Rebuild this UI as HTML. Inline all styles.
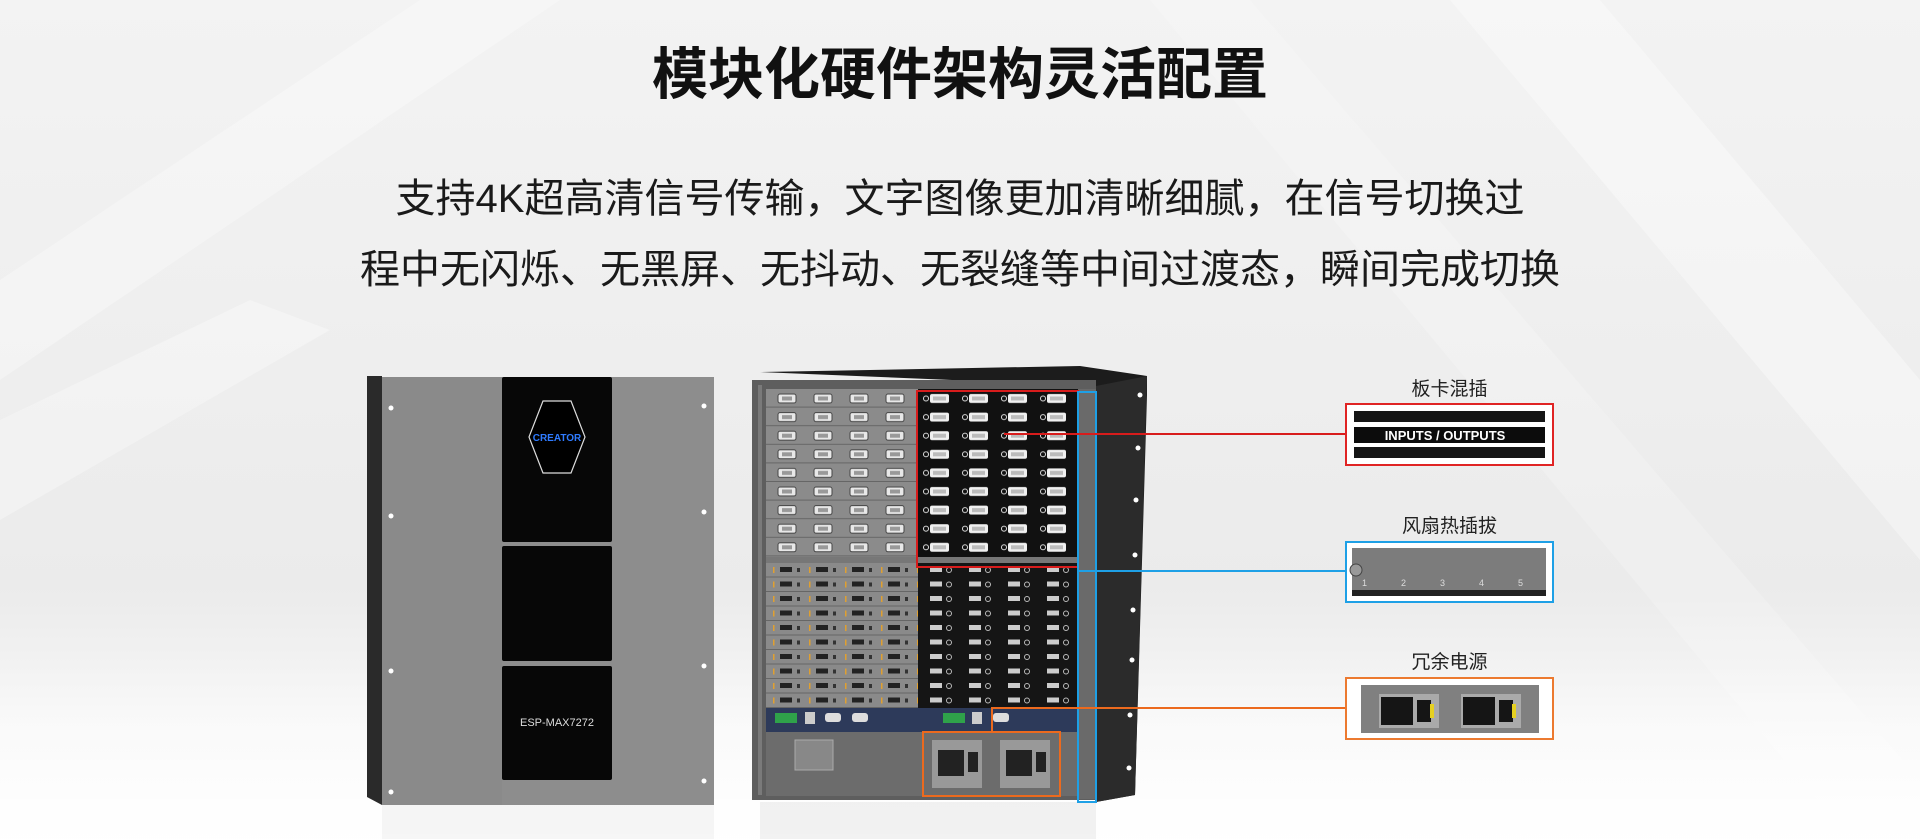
<!DOCTYPE html>
<html><head><meta charset="utf-8"><style>
html,body{margin:0;padding:0}
body{width:1920px;height:839px;position:relative;overflow:hidden;font-family:"Liberation Sans","Noto Sans CJK SC",sans-serif;background:linear-gradient(180deg,#f3f3f3 0%,#eeeeee 45%,#ebebeb 70%,#f6f6f6 85%,#fbfbfb 100%)}
.t{position:absolute;left:0;width:1920px;text-align:center;color:#111}
.lab{position:absolute;width:207px;text-align:center;font-size:19px;color:#222}
</style></head><body>
<svg width="1920" height="839" style="position:absolute;left:0;top:0">
<defs>
<linearGradient id="fl" x1="0" y1="0" x2="0" y2="1"><stop offset="0" stop-color="#fff" stop-opacity="0"/><stop offset="1" stop-color="#fff" stop-opacity="0.9"/></linearGradient>
<pattern id="ul" x="770" y="389" width="36" height="18.6" patternUnits="userSpaceOnUse"><rect width="36" height="18.6" fill="#8b8b8b"/><rect y="17.6" width="36" height="1" fill="#666"/><rect x="8" y="5" width="18" height="9" rx="2" fill="#e8e8e8" stroke="#444" stroke-width="1"/><rect x="12" y="7.5" width="10" height="4" fill="#999"/></pattern>
<pattern id="ur" x="920" y="389" width="39" height="18.6" patternUnits="userSpaceOnUse"><rect width="39" height="18.6" fill="#111"/><rect x="10" y="5" width="19" height="9" rx="2" fill="#f0f0f0"/><rect x="13" y="7.5" width="13" height="4" fill="#bbb"/><circle cx="6" cy="9.5" r="2.5" fill="none" stroke="#ddd"/></pattern>
<pattern id="ll" x="770" y="563" width="36" height="14.5" patternUnits="userSpaceOnUse"><rect width="36" height="14.5" fill="#8a8a8a"/><rect y="13.5" width="36" height="1" fill="#666"/><rect x="10" y="4" width="12" height="5" fill="#222"/><rect x="27" y="5" width="3" height="4" fill="#333"/><rect x="3" y="4" width="1.5" height="6" fill="#e0a030"/></pattern>
<pattern id="lr" x="920" y="563" width="39" height="14.5" patternUnits="userSpaceOnUse"><rect width="39" height="14.5" fill="#151515"/><rect x="10" y="4" width="12" height="5" fill="#ccc"/><circle cx="29" cy="7" r="2.5" fill="none" stroke="#bbb"/></pattern>
</defs>
<polygon points="0,280 420,0 560,0 0,380" fill="#fff" opacity="0.3"/>
<polygon points="1450,0 1600,0 1920,380 1920,560" fill="#fff" opacity="0.35"/>
<polygon points="1150,0 1250,0 1920,780 1920,839 1850,839" fill="#fff" opacity="0.2"/>
<polygon points="0,420 250,300 330,330 0,520" fill="#fff" opacity="0.3"/>
<rect x="0" y="660" width="1920" height="179" fill="url(#fl)"/>

<polygon points="367,376 382,376 382,805 367,797" fill="#2a2a2a"/>
<rect x="382" y="377" width="332" height="428" fill="#8d8d8d"/>
<rect x="382" y="377" width="120" height="428" fill="#8a8a8a"/>
<rect x="502" y="377" width="110" height="165" rx="2" fill="#070707"/>
<rect x="502" y="546" width="110" height="115" rx="2" fill="#070707"/>
<rect x="502" y="666" width="110" height="114" rx="2" fill="#070707"/>
<polygon points="543,401 571,401 585,437 571,473 543,473 529,437" fill="#000" stroke="#ddd" stroke-width="1.2"/>
<text x="557" y="441" text-anchor="middle" font-size="10" font-weight="bold" fill="#2f7bff" font-family="Liberation Sans">CREATOR</text>
<text x="557" y="726" text-anchor="middle" font-size="11" fill="#ddd" font-family="Liberation Sans">ESP-MAX7272</text>
<g fill="#fff"><circle cx="391" cy="408" r="2.5"/><circle cx="391" cy="516" r="2.5"/><circle cx="391" cy="671" r="2.5"/><circle cx="391" cy="792" r="2.5"/><circle cx="704" cy="406" r="2.5"/><circle cx="704" cy="512" r="2.5"/><circle cx="704" cy="666" r="2.5"/><circle cx="704" cy="781" r="2.5"/></g>
<polygon points="382,805 714,805 714,839 382,839" fill="#ddd" opacity="0.25"/>

<polygon points="760,372 1080,366 1147,376 1147,395 1135,795 1096,802 1096,386" fill="#1c1c1c"/>
<polygon points="1096,386 1147,376 1135,795 1096,802" fill="#2b2b2b"/>
<g fill="#fff"><circle cx="1140" cy="395" r="2.5"/><circle cx="1138" cy="448" r="2.5"/><circle cx="1136" cy="500" r="2.5"/><circle cx="1135" cy="555" r="2.5"/><circle cx="1133" cy="610" r="2.5"/><circle cx="1132" cy="660" r="2.5"/><circle cx="1130" cy="715" r="2.5"/><circle cx="1129" cy="768" r="2.5"/></g>
<rect x="752" y="380" width="344" height="420" fill="#5e5e5e"/>
<rect x="766" y="389" width="152" height="168" fill="url(#ul)"/>
<rect x="918" y="389" width="160" height="168" fill="url(#ur)"/>
<rect x="766" y="557" width="312" height="6" fill="#777"/>
<rect x="766" y="563" width="152" height="145" fill="url(#ll)"/>
<rect x="918" y="563" width="160" height="145" fill="url(#lr)"/>
<rect x="766" y="708" width="312" height="24" fill="#2d3a5a"/>
<rect x="775" y="713" width="22" height="10" fill="#2fa24a"/><rect x="805" y="712" width="10" height="12" fill="#ccc"/><rect x="825" y="713" width="16" height="9" rx="3" fill="#ddd"/><rect x="852" y="713" width="16" height="9" rx="3" fill="#ddd"/>
<rect x="943" y="713" width="22" height="10" fill="#2fa24a"/><rect x="972" y="712" width="10" height="12" fill="#ccc"/><rect x="993" y="713" width="16" height="9" rx="3" fill="#ddd"/>
<rect x="766" y="732" width="312" height="64" fill="#6c6c6c"/>
<rect x="795" y="740" width="38" height="30" fill="#888" stroke="#aaa"/>
<rect x="932" y="740" width="50" height="48" fill="#999"/><rect x="1000" y="740" width="50" height="48" fill="#999"/>
<rect x="938" y="750" width="26" height="26" fill="#222"/><rect x="968" y="752" width="10" height="20" fill="#222"/><rect x="1006" y="750" width="26" height="26" fill="#222"/><rect x="1036" y="752" width="10" height="20" fill="#222"/>
<rect x="1078" y="389" width="18" height="410" fill="#6a6a6a"/>
<rect x="758" y="385" width="4" height="410" fill="#7a7a7a"/>
<polygon points="760,802 1096,802 1096,839 760,839" fill="#ccc" opacity="0.25"/>

<rect x="917" y="391" width="161" height="176" fill="none" stroke="#d81c1c" stroke-width="2"/>
<rect x="1078" y="392" width="18" height="410" fill="none" stroke="#1ea0e6" stroke-width="2"/>
<rect x="923" y="732" width="137" height="64" fill="none" stroke="#ec6a1e" stroke-width="2"/>
<line x1="1004" y1="434" x2="1346" y2="434" stroke="#d81c1c" stroke-width="2"/>
<line x1="1078" y1="571" x2="1346" y2="571" stroke="#1ea0e6" stroke-width="2"/>
<polyline points="992,732 992,708 1346,708" fill="none" stroke="#ec6a1e" stroke-width="2"/>

<rect x="1346" y="404" width="207" height="61" fill="#fff" stroke="#e02424" stroke-width="2"/>
<rect x="1354" y="411" width="191" height="11" fill="#151515"/>
<rect x="1354" y="427" width="191" height="16" fill="#0c0c0c"/>
<rect x="1354" y="447" width="191" height="11" fill="#151515"/>
<text x="1445" y="440" text-anchor="middle" font-size="13" font-weight="bold" fill="#fff" font-family="Liberation Sans">INPUTS / OUTPUTS</text>
<rect x="1346" y="542" width="207" height="60" fill="#fff" stroke="#1ea0e6" stroke-width="2"/>
<rect x="1352" y="548" width="194" height="48" fill="#7c7c7c"/>
<rect x="1352" y="590" width="194" height="6" fill="#222"/>
<g font-size="9" fill="#ddd" font-family="Liberation Sans"><text x="1362" y="586">1</text><text x="1401" y="586">2</text><text x="1440" y="586">3</text><text x="1479" y="586">4</text><text x="1518" y="586">5</text></g>
<circle cx="1356" cy="570" r="6" fill="#999" stroke="#444"/>
<rect x="1346" y="678" width="207" height="61" fill="#fff" stroke="#ec7a30" stroke-width="2"/>
<rect x="1361" y="685" width="178" height="48" fill="#808080"/>
<rect x="1379" y="694" width="60" height="34" fill="#aaa"/><rect x="1461" y="694" width="60" height="34" fill="#aaa"/>
<rect x="1381" y="697" width="32" height="28" fill="#151515"/><rect x="1417" y="700" width="14" height="22" fill="#151515"/><rect x="1463" y="697" width="32" height="28" fill="#151515"/><rect x="1499" y="700" width="14" height="22" fill="#151515"/>
<rect x="1430" y="704" width="4" height="14" fill="#e6d020"/><rect x="1512" y="704" width="4" height="14" fill="#e6d020"/>
</svg>
<div class="t" style="top:42px;font-size:56px;font-weight:bold;line-height:66px">模块化硬件架构灵活配置</div>
<div class="t" style="top:175px;font-size:40px;line-height:48px;color:#1a1a1a">支持4K超高清信号传输，文字图像更加清晰细腻，在信号切换过</div>
<div class="t" style="top:246px;font-size:40px;line-height:48px;color:#1a1a1a">程中无闪烁、无黑屏、无抖动、无裂缝等中间过渡态，瞬间完成切换</div>
<div class="lab" style="left:1346px;top:374px">板卡混插</div>
<div class="lab" style="left:1346px;top:511px">风扇热插拔</div>
<div class="lab" style="left:1346px;top:647px">冗余电源</div>
</body></html>
